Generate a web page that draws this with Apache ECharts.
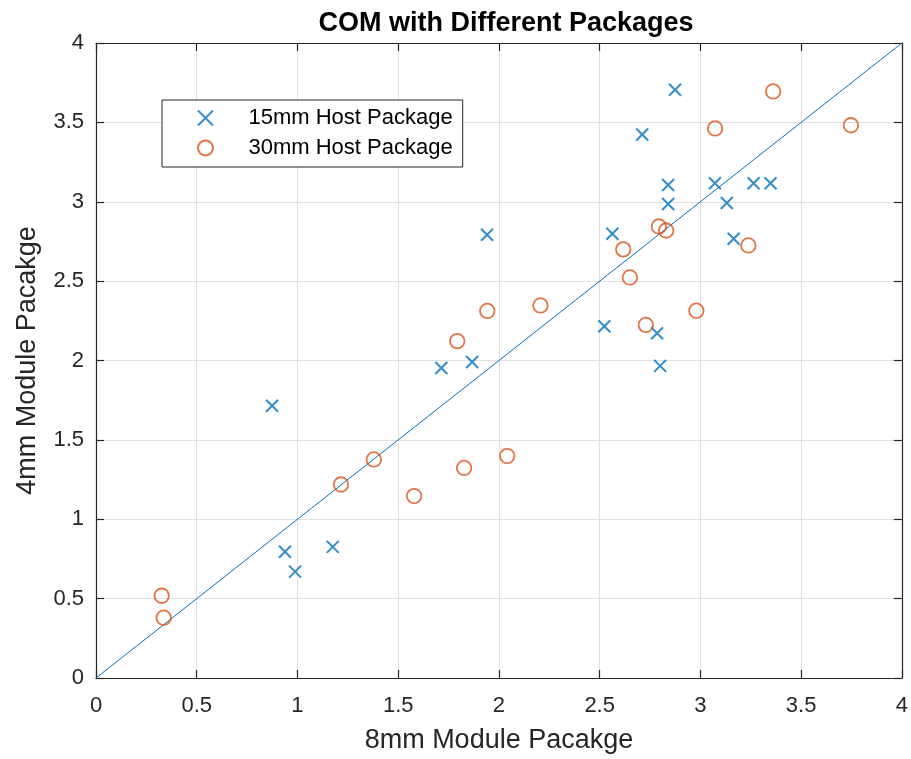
<!DOCTYPE html>
<html>
<head>
<meta charset="utf-8">
<script src="https://cdn.jsdelivr.net/npm/echarts@6/dist/echarts.min.js"></script>
<style>html,body{margin:0;padding:0;background:#fff}#c{width:911px;height:759px}</style>
</head>
<body>
<div id="c"></div>
<script>
const titleText = 'COM with Different Packages';
const xName = '8mm Module Pacakge';
const yName = '4mm Module Pacakge';
const seriesNames = ['15mm Host Package', '30mm Host Package'];

const hostX15 = [0.874,0.938,0.988,1.175,1.714,1.867,1.941,2.523,2.563,2.711,2.785,2.800,2.840,2.840,2.874,3.072,3.131,3.165,3.264,3.348];
const hostY15 = [1.715,0.795,0.670,0.826,1.953,1.991,2.792,2.216,2.798,3.424,2.172,1.966,3.105,2.986,3.706,3.117,2.992,2.767,3.117,3.117];

const hostX30 = [0.326,0.336,1.216,1.379,1.579,1.793,1.827,1.942,2.041,2.206,2.617,2.650,2.729,2.794,2.830,2.980,3.073,3.238,3.361,3.747];
const hostY30 = [0.518,0.380,1.219,1.377,1.146,2.122,1.323,2.312,1.398,2.347,2.700,2.523,2.224,2.844,2.819,2.314,3.462,2.725,3.695,3.482];

const refLine = [[0,0],[4,4]];

const axisMin = 0, axisMax = 4, axisStep = 0.5;

const dark = '#262626';
const blue = '#0072BD';
const orange = '#D95319';
const font = 'Liberation Sans, Arial, sans-serif';

const pts15 = hostX15.map((x,i)=>[x, hostY15[i]]);
const pts30 = hostX30.map((x,i)=>[x, hostY30[i]]);

const chart = echarts.init(document.getElementById('c'), null, {renderer:'canvas'});

const baseAxis = {
  min: axisMin, max: axisMax, interval: axisStep,
  axisLine: {show:true, onZero:false, lineStyle:{color:dark, width:1.2}},
  axisTick: {show:true, inside:true, length:8, lineStyle:{color:dark, width:1.2}},
};

chart.setOption({
  animation: false,
  backgroundColor: '#fff',
  title: {
    text: titleText, left: 501, top: 5, textAlign: 'center',
    textStyle: {fontFamily: font, fontWeight: 'bold', fontSize: 27, color: '#000'}
  },
  grid: {left: 96, right: 4, top: 43, bottom: 77, containLabel: false},
  legend: {
    orient: 'vertical', left: 162, top: 100,
    data: seriesNames,
    backgroundColor: '#fff',
    borderColor: dark, borderWidth: 1, borderRadius: 0,
    padding: [7, 10, 8, 35],
    itemWidth: 20, itemHeight: 15, itemGap: 8,
    textStyle: {fontFamily: font, fontSize: 22, color: '#000', padding: [0,0,0,28]}
  },
  xAxis: [
    Object.assign({}, baseAxis, {
      type: 'value', position: 'bottom',
      name: xName, nameLocation: 'middle', nameGap: 49,
      nameTextStyle: {fontFamily: font, fontSize: 27, color: dark},
      axisLabel: {show:true, margin: 17, fontFamily: font, fontSize: 22, color: dark},
      splitLine: {show:true, lineStyle:{color:'#e0e0e0', width:1}}
    }),
    Object.assign({}, baseAxis, {
      type: 'value', position: 'top',
      axisLabel: {show:false}, splitLine: {show:false}
    })
  ],
  yAxis: [
    Object.assign({}, baseAxis, {
      type: 'value', position: 'left',
      name: yName, nameLocation: 'middle', nameGap: 55, nameRotate: 90,
      nameTextStyle: {fontFamily: font, fontSize: 27, color: dark},
      axisLabel: {show:true, margin: 12, fontFamily: font, fontSize: 22, color: dark},
      splitLine: {show:true, lineStyle:{color:'#e0e0e0', width:1}}
    }),
    Object.assign({}, baseAxis, {
      type: 'value', position: 'right',
      axisLabel: {show:false}, splitLine: {show:false}
    })
  ],
  series: [
    {
      name: 'ref', type: 'line', data: refLine, showSymbol: false, symbol: 'none',
      lineStyle: {color: blue, width: 1}, silent: true, z: 1
    },
    {
      name: seriesNames[0], type: 'scatter', data: pts15,
      symbol: 'path://M0,0L10,10M0,10L10,0', symbolSize: 12,
      itemStyle: {color: 'rgba(0,0,0,0)', borderColor: blue, borderWidth: 2},
      z: 3
    },
    {
      name: seriesNames[1], type: 'scatter', data: pts30,
      symbol: 'circle', symbolSize: 14.5,
      itemStyle: {color: 'rgba(0,0,0,0)', borderColor: orange, borderWidth: 1.8},
      z: 3
    }
  ]
});
</script>
</body>
</html>
